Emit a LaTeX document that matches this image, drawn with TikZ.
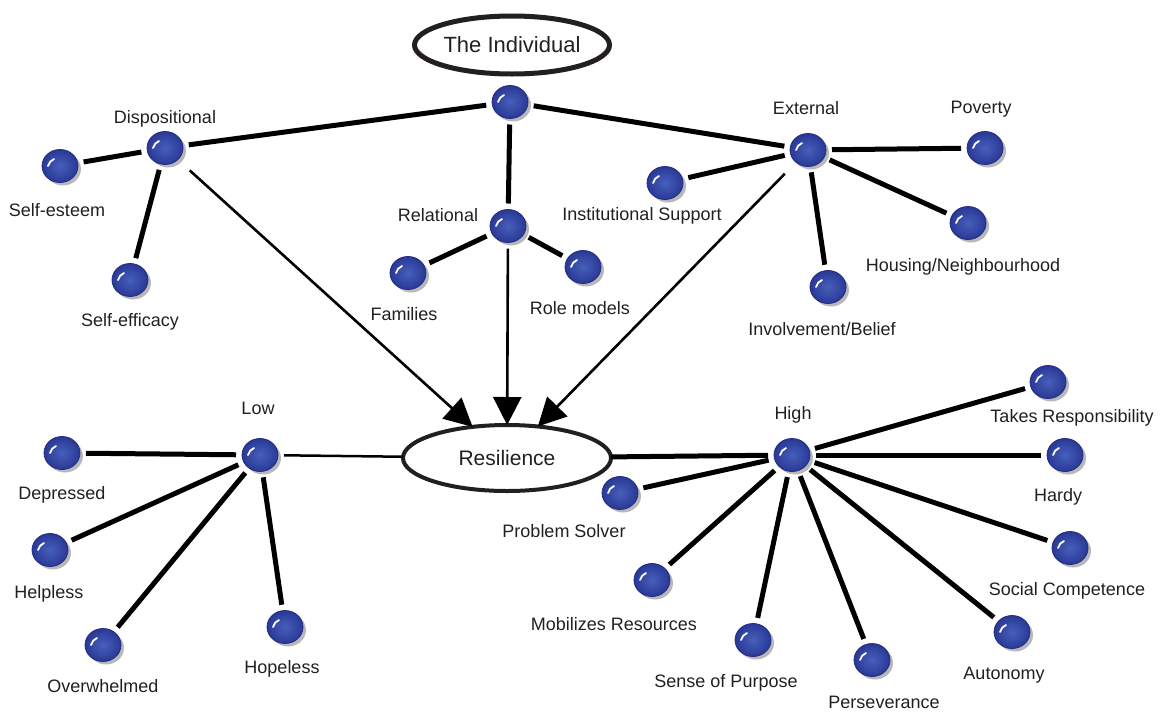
\documentclass[tikz,border=0pt]{standalone}
\usepackage{fontspec}
\setmainfont{Liberation Sans}
\usetikzlibrary{shapes.geometric,shadows,arrows.meta}
\definecolor{balllight}{RGB}{70,96,186}
\definecolor{balldark}{RGB}{42,56,150}
\definecolor{ballrim}{RGB}{34,44,128}
\definecolor{txt}{RGB}{35,31,32}
\begin{document}
\begin{tikzpicture}[x=1pt,y=-1pt,
  font=\fontsize{18}{20}\selectfont,
  ball/.style={ellipse, minimum width=36pt, minimum height=33pt, inner sep=0pt, outer sep=6pt,
    inner color=balllight, outer color=balldark, draw=ballrim, line width=0.8pt,
    drop shadow={shadow xshift=3pt, shadow yshift=-3pt, fill=black!28, opacity=1},
    path picture={\draw[white,line width=1.8pt,line cap=round]
      ([shift={(-12pt,0pt)}]path picture bounding box.center) to[bend left=25]
      ([shift={(-6pt,7pt)}]path picture bounding box.center);}},
  lbl/.style={anchor=base, inner sep=0pt, text=txt},
  link/.style={line width=5pt, draw=black},
  arr/.style={line width=2.6pt, draw=black, -{Triangle[length=28pt,width=28pt]}},
  thin/.style={line width=2.5pt, draw=black},
  big/.style={ellipse, draw=txt, inner sep=0pt, text=txt}
]
\useasboundingbox (0,0) rectangle (1166,713);

% ellipses
\node[big, line width=5pt, minimum width=195pt, minimum height=58pt, font=\fontsize{22}{24}\selectfont] (ind) at (512,45) {The Individual};
\node[big, line width=4pt, minimum width=208pt, minimum height=66pt, outer sep=0pt, font=\fontsize{21}{24}\selectfont] (res) at (507,458) {Resilience};

% balls
\node[ball] (top) at (510,102) {};
\node[ball] (disp) at (165,148) {};
\node[ball] (selfe) at (60,166) {};
\node[ball] (selfeff) at (130,280) {};
\node[ball] (rel) at (508,226) {};
\node[ball] (fam) at (408,273) {};
\node[ball] (role) at (583,267) {};
\node[ball] (ext) at (808,150) {};
\node[ball] (inst) at (665,183) {};
\node[ball] (pov) at (985,148) {};
\node[ball] (hous) at (968,223) {};
\node[ball] (inv) at (828,287) {};
\node[ball] (low) at (260,455) {};
\node[ball] (dep) at (62,453) {};
\node[ball] (help) at (50,550) {};
\node[ball] (over) at (103,645) {};
\node[ball] (hope) at (285,627) {};
\node[ball] (high) at (792,455) {};
\node[ball] (takes) at (1048,382) {};
\node[ball] (hardy) at (1065,455) {};
\node[ball] (social) at (1070,548) {};
\node[ball] (auto) at (1012,632) {};
\node[ball] (pers) at (872,660) {};
\node[ball] (sense) at (753,640) {};
\node[ball] (mob) at (652,580) {};
\node[ball] (prob) at (620,493) {};

% labels
\node[lbl] (l1) at (165,123.5) {Dispositional};
\node[lbl] (l2) at (57,216.5) {Self-esteem};
\node[lbl] (l3) at (130,326.5) {Self-efficacy};
\node[lbl] (l4) at (438,221.5) {Relational};
\node[lbl] (l5) at (404,320.5) {Families};
\node[lbl] (l6) at (580,314.5) {Role models};
\node[lbl] (l7) at (642,220.5) {Institutional Support};
\node[lbl] (l8) at (806,114.5) {External};
\node[lbl] (l9) at (981,113.5) {Poverty};
\node[lbl] (l10) at (963,271.5) {Housing/Neighbourhood};
\node[lbl] (l11) at (822,335.5) {Involvement/Belief};
\node[lbl] (l12) at (258,414.5) {Low};
\node[lbl] (l13) at (62,499.5) {Depressed};
\node[lbl] (l14) at (49,598.5) {Helpless};
\node[lbl] (l15) at (103,692.5) {Overwhelmed};
\node[lbl] (l16) at (282,673.5) {Hopeless};
\node[lbl] (l17) at (793,419.5) {High};
\node[lbl] (l18) at (1072,422.5) {Takes Responsibility};
\node[lbl] (l19) at (1058,501.5) {Hardy};
\node[lbl] (l20) at (1067,595.5) {Social Competence};
\node[lbl] (l21) at (1004,679.5) {Autonomy};
\node[lbl] (l22) at (884,708.5) {Perseverance};
\node[lbl] (l23) at (726,687.5) {Sense of Purpose};
\node[lbl] (l24) at (614,630.5) {Mobilizes Resources};
\node[lbl] (l25) at (564,537.5) {Problem Solver};

% connectors
\draw[link] (top) -- (disp);
\draw[link] (top) -- (ext);
\draw[link] (top) -- (rel);
\draw[link] (disp) -- (selfe);
\draw[link] (disp) -- (selfeff);
\draw[link] (rel) -- (fam);
\draw[link] (rel) -- (role);
\draw[link] (ext) -- (inst);
\draw[link] (ext) -- (pov);
\draw[link] (ext) -- (hous);
\draw[link] (ext) -- (inv);

\draw[arr, shorten <=10pt] (disp) -- (res);
\draw[arr] (rel) -- (res);
\draw[arr, shorten <=10pt] (ext) -- (res);

\draw[thin] (low) -- (res);
\draw[link] (res) -- (high);

\draw[link] (low) -- (dep);
\draw[link] (low) -- (help);
\draw[link] (low) -- (over);
\draw[link] (low) -- (hope);

\draw[link] (high) -- (takes);
\draw[link] (high) -- (hardy);
\draw[link] (high) -- (social);
\draw[link] (high) -- (auto);
\draw[link] (high) -- (pers);
\draw[link] (high) -- (sense);
\draw[link] (high) -- (mob);
\draw[link] (high) -- (prob);
\end{tikzpicture}
\end{document}
